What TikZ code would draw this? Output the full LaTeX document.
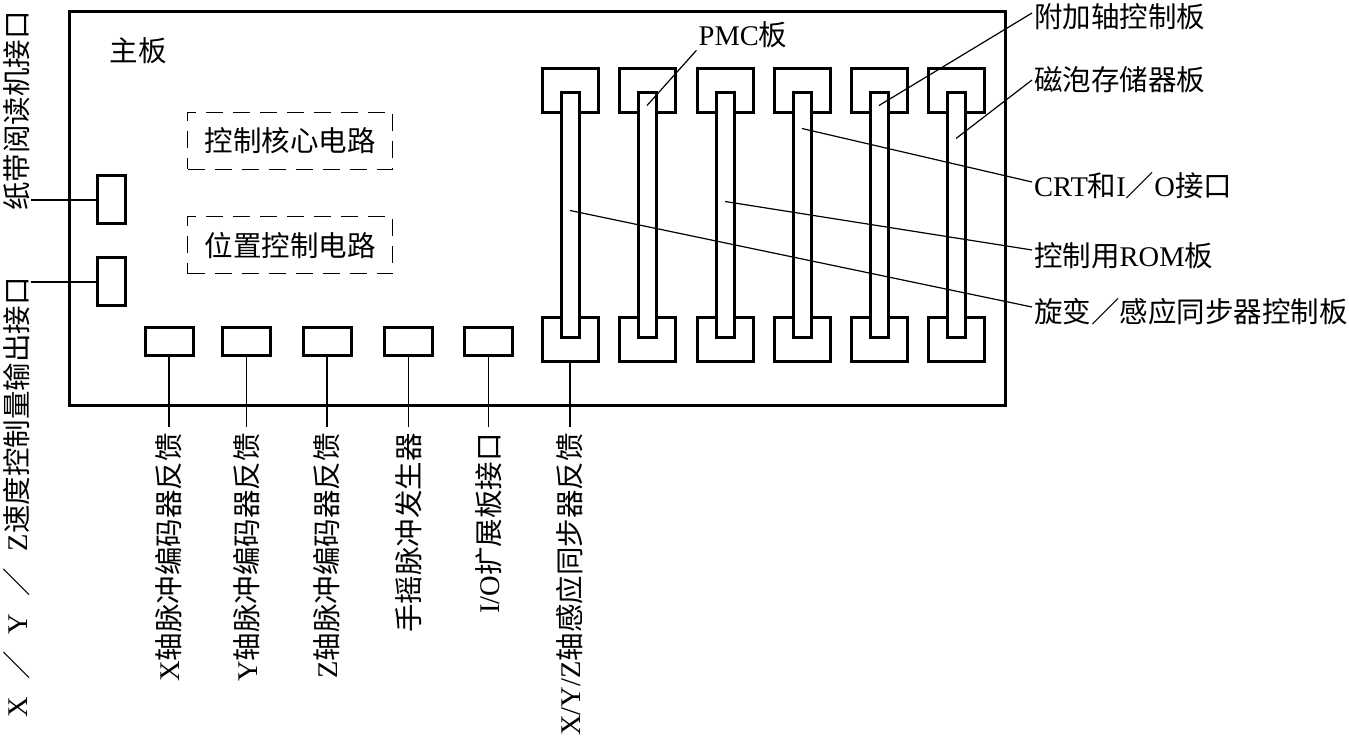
\documentclass[tikz,border=0pt]{standalone}
\usepackage{fontspec}
\setmainfont{Liberation Serif}
\newfontfamily\cjk{Noto Sans CJK SC}
\usetikzlibrary{positioning}
\newcommand{\en}[1]{{\rmfamily #1}}

\begin{document}
\begin{tikzpicture}[
        x=1pt, y=-1pt,
        every node/.style={font=\cjk\fontsize{28.5}{33}\selectfont, inner sep=2pt},
        board/.style={draw, line width=3pt, minimum width=936pt, minimum height=394pt},
        port/.style={draw, line width=3pt, fill=white, minimum width=48pt, minimum height=28pt, inner sep=0pt},
        vport/.style={port, minimum width=28pt, minimum height=48pt},
        slotcap/.style={draw, line width=3pt, fill=white, minimum width=56pt, minimum height=44pt, inner sep=0pt},
        slotbar/.style={draw, line width=3pt, fill=white, minimum width=18pt, minimum height=244pt, inner sep=0pt},
        circuit/.style={draw, line width=1.3pt, dash pattern=on 17pt off 10pt, minimum width=205pt, minimum height=57pt},
        lead/.style={line width=1.2pt},
        vlabel/.style={rotate=90, inner xsep=6pt, inner ysep=1pt}
    ]
    \useasboundingbox (0,0) rectangle (1349,751);

    \node[board, anchor=north west] (mainboard) at (68,10) {};
    \node (title) at (138,51) {主板};
    \node[circuit] (core) at (290,141) {控制核心电路};
    \node[circuit, below=46pt of core] (poscirc) {位置控制电路};

    \node[vport] (tape) at (111,200) {};
    \node[vport] (speed) at (111,282) {};
    \node[vlabel] (tapelab) at (17,111) {纸带阅读机接口};
    \node[vlabel, anchor=east] (speedlab) at (17,271) {\en{X}\hspace{.6em}／\hspace{.6em}\en{Y}\hspace{.6em}／\hspace{.6em}\en{Z}速度控制量输出接口};
    \draw[lead] (tape.west) -- (tape -| tapelab.south);
    \draw[lead] (speed.west) -- (speed -| speedlab.south);

    \node[port] (xenc) at (169,341) {};
    \node[port] (yenc) at (246.5,341) {};
    \node[port] (zenc) at (327,341) {};
    \node[port] (mpg) at (408.5,341) {};
    \node[port] (ioext) at (488.5,341) {};

    \foreach \i/\x in {1/570, 2/647, 3/725, 4/802, 5/879, 6/956} {
        \node[slotcap] (top\i) at (\x,91) {};
        \node[slotcap] (bot\i) at (\x,339.5) {};
        \node[slotbar] (bar\i) at (\x,215) {};
    }

    \node[vlabel, anchor=east] (xenclab) at (169,427) {\en{X}轴脉冲编码器反馈};
    \node[vlabel, anchor=east] (yenclab) at (246.5,427) {\en{Y}轴脉冲编码器反馈};
    \node[vlabel, anchor=east] (zenclab) at (327,427) {\en{Z}轴脉冲编码器反馈};
    \node[vlabel, anchor=east] (mpglab) at (408.5,427) {手摇脉冲发生器};
    \node[vlabel, anchor=east] (ioextlab) at (488.5,427) {\en{I/O}扩展板接口};
    \node[vlabel, anchor=east] (synlab) at (570,427) {\en{X/Y/Z}轴感应同步器反馈};
    \draw[lead] (xenc.south) -- (xenclab.east);
    \draw[lead] (yenc.south) -- (yenclab.east);
    \draw[lead] (zenc.south) -- (zenclab.east);
    \draw[lead] (mpg.south) -- (mpglab.east);
    \draw[lead] (ioext.south) -- (ioextlab.east);
    \draw[lead] (bot1.south) -- (synlab.east);

    \node (pmc) at (743,35) {\en{PMC}板};
    \node[anchor=west] (axisbd) at (1032,17) {附加轴控制板};
    \node[anchor=west] (bubble) at (1032,80) {磁泡存储器板};
    \node[anchor=west] (crt) at (1032,186) {\en{CRT}和\en{I}／\en{O}接口};
    \node[anchor=west] (rom) at (1032,256) {控制用\en{ROM}板};
    \node[anchor=west] (resolver) at (1032,312) {旋变／感应同步器控制板};
    \draw[lead] (pmc.south west) -- ([yshift=-14pt]bar2.north);
    \draw[lead] ([yshift=4pt]axisbd.west) -- ([yshift=-14pt]bar5.north);
    \draw[lead] (bubble.west) -- ([yshift=-47pt]bar6.north);
    \draw[lead] ([yshift=4pt]crt.west) -- ([yshift=-37pt]bar4.north);
    \draw[lead] ([yshift=6pt]rom.west) -- ([yshift=-110pt]bar3.north);
    \draw[lead] ([yshift=5pt]resolver.west) -- ([yshift=-119pt]bar1.north);

\end{tikzpicture}
\end{document}
